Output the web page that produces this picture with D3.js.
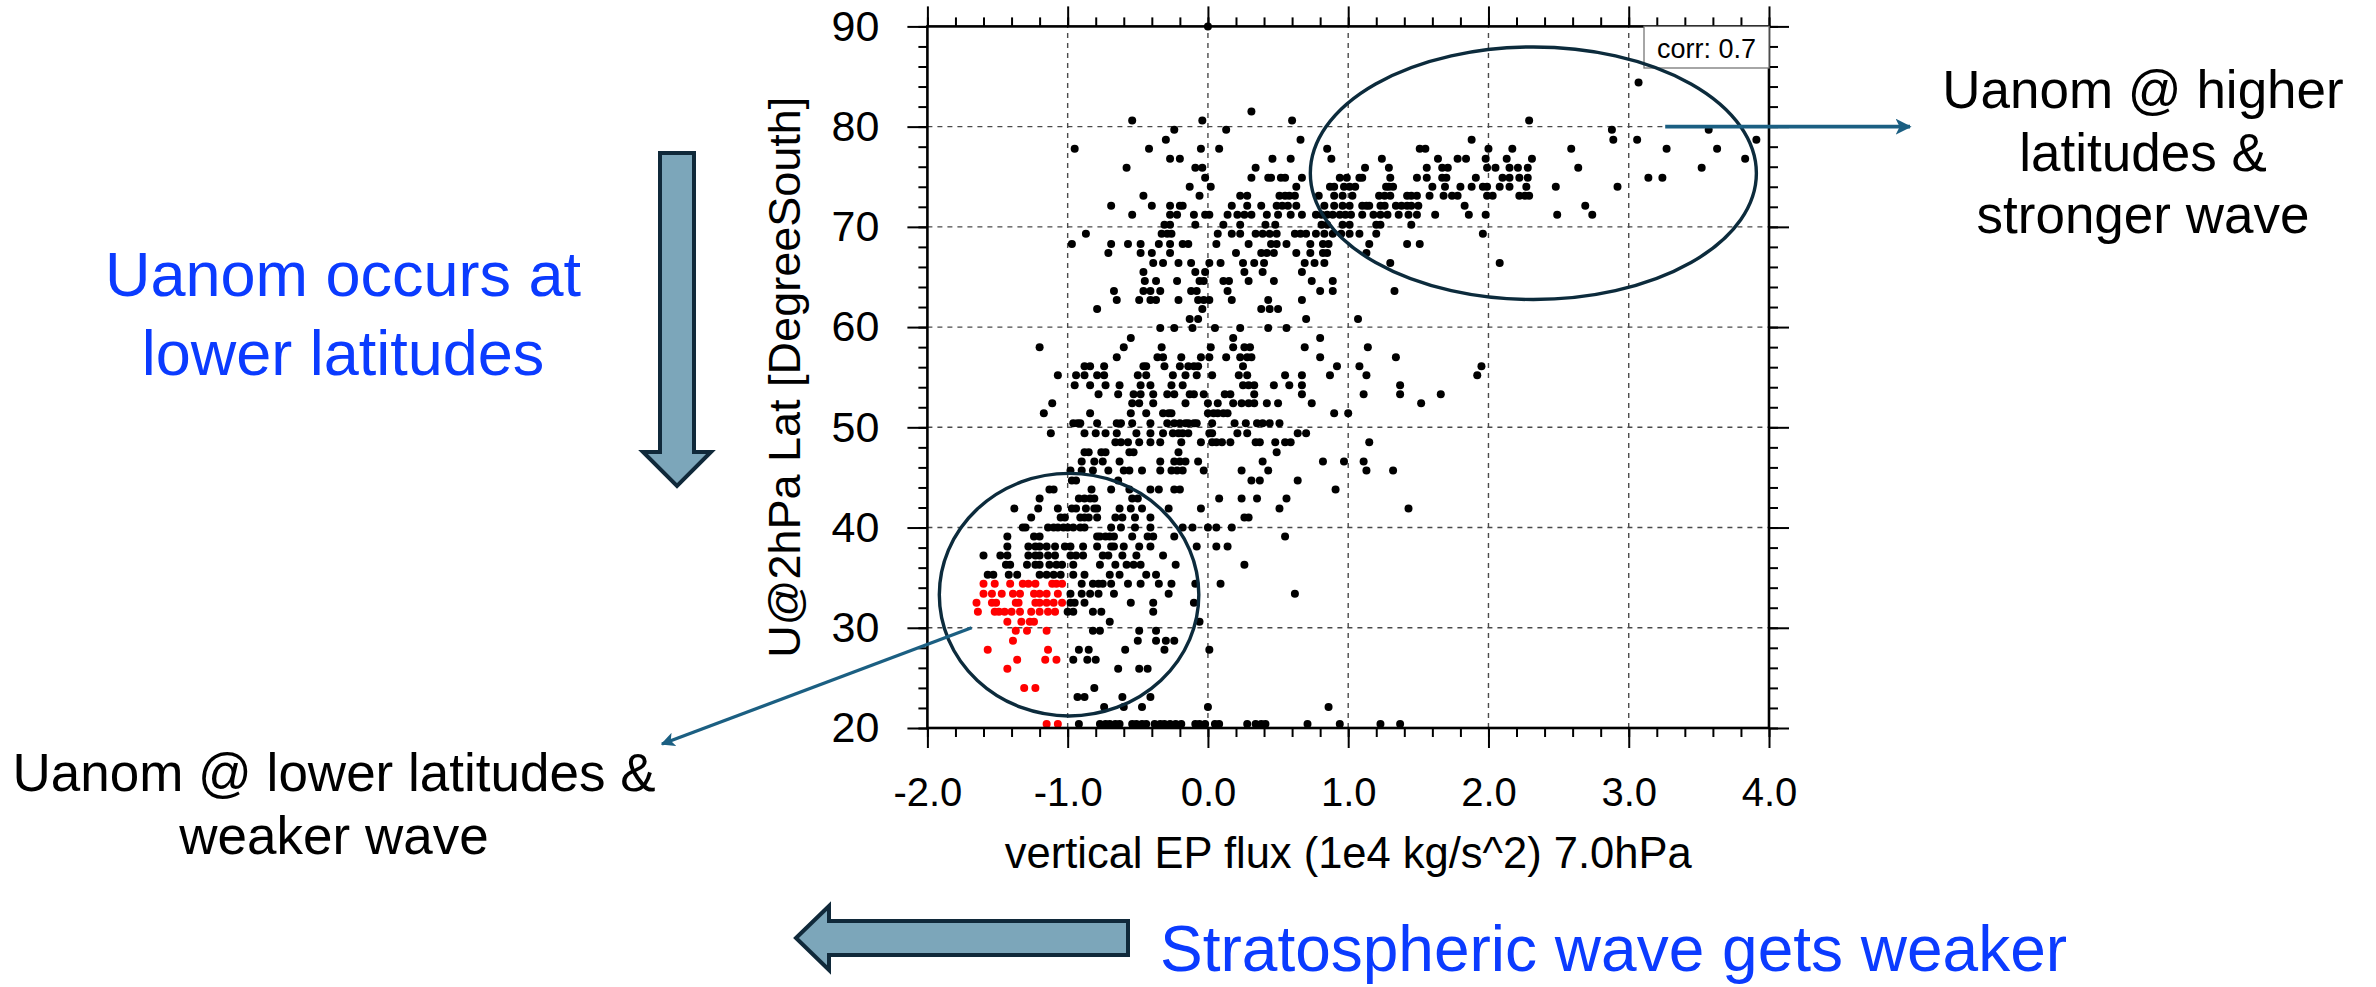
<!DOCTYPE html>
<html>
<head>
<meta charset="utf-8">
<script src="https://cdn.jsdelivr.net/npm/d3@7"></script>
<style>
  html, body { margin: 0; padding: 0; background: #fff; }
  svg { display: block; font-family: "Liberation Sans", Arial, Helvetica, sans-serif; }
</style>
</head>
<body>
<div id="chart"></div>
<script>
// axis ticks
const xTicks = [-2, -1, 0, 1, 2, 3, 4];
const yTicks = [20, 30, 40, 50, 60, 70, 80, 90];
const xTitle = "vertical EP flux (1e4 kg/s^2) 7.0hPa";
const yTitle = "U@2hPa Lat [DegreeSouth]";
const corrText = "corr: 0.7";

// black points, one row per latitude: [lat, [flux values]]
const blackRows = [
  [90.0, [0.0]],
  [84.4, [3.07]],
  [81.5, [0.31]],
  [80.6, [-0.54, -0.04, 0.60, 2.29]],
  [79.7, [-0.24, 0.13, 2.88, 3.57]],
  [78.7, [-0.30, 0.66, 1.88, 2.89, 3.06, 3.91]],
  [77.8, [-0.95, -0.42, -0.05, 0.08, 0.85, 1.51, 1.55, 2.00, 2.17, 2.59, 3.27, 3.63]],
  [76.8, [-0.27, -0.20, 0.46, 0.59, 0.88, 1.24, 1.64, 1.78, 1.84, 1.98, 2.13, 2.31, 3.83]],
  [75.9, [-0.58, -0.09, -0.04, 0.34, 1.12, 1.29, 1.56, 1.67, 1.71, 1.99, 2.05, 2.15, 2.21, 2.28, 2.64, 3.52]],
  [74.9, [-0.02, 0.31, 0.43, 0.45, 0.52, 0.55, 0.67, 0.94, 0.99, 1.08, 1.10, 1.30, 1.49, 1.56, 1.67, 1.70, 1.91, 2.10, 2.15, 2.22, 2.28, 3.14, 3.24]],
  [74.0, [-0.13, 0.02, 0.63, 0.87, 0.90, 0.97, 1.01, 1.05, 1.27, 1.29, 1.32, 1.60, 1.69, 1.80, 1.88, 1.96, 1.99, 2.08, 2.15, 2.27, 2.48, 2.92]],
  [73.1, [-0.46, -0.06, 0.23, 0.28, 0.51, 0.55, 0.58, 0.62, 0.79, 0.90, 0.96, 1.03, 1.22, 1.26, 1.30, 1.42, 1.45, 1.49, 1.58, 1.68, 1.74, 1.78, 1.99, 2.03, 2.22, 2.26, 2.29]],
  [72.1, [-0.69, -0.40, -0.27, -0.20, -0.18, 0.17, 0.28, 0.38, 0.49, 0.53, 0.57, 0.63, 0.83, 0.90, 0.96, 1.01, 1.10, 1.13, 1.15, 1.23, 1.26, 1.34, 1.38, 1.42, 1.45, 1.50, 1.83, 2.69]],
  [71.2, [-0.54, -0.27, -0.22, -0.10, -0.02, 0.01, 0.14, 0.21, 0.26, 0.31, 0.42, 0.50, 0.59, 0.67, 0.77, 0.81, 0.85, 0.89, 0.94, 0.98, 1.02, 1.10, 1.18, 1.23, 1.28, 1.36, 1.43, 1.49, 1.62, 1.86, 1.98, 2.49, 2.74]],
  [70.2, [-0.31, -0.27, -0.09, 0.11, 0.23, 0.41, 0.48, 0.81, 0.85, 0.96, 1.01, 1.20, 1.23, 1.45]],
  [69.3, [-0.87, -0.33, -0.29, -0.26, 0.07, 0.17, 0.23, 0.34, 0.39, 0.44, 0.49, 0.62, 0.66, 0.70, 0.77, 0.83, 0.89, 0.95, 1.01, 1.08, 1.20, 1.96]],
  [68.3, [-0.97, -0.69, -0.57, -0.48, -0.35, -0.27, -0.18, -0.14, 0.06, 0.29, 0.45, 0.49, 0.56, 0.73, 0.82, 0.86, 1.15, 1.42, 1.51]],
  [67.4, [-0.71, -0.48, -0.40, -0.27, 0.20, 0.38, 0.42, 0.47, 0.63, 0.73, 0.82, 0.85, 1.13]],
  [66.4, [-0.39, -0.32, -0.21, -0.12, 0.01, 0.09, 0.25, 0.33, 0.40, 0.69, 0.76, 0.83, 1.30, 2.08]],
  [65.5, [-0.46, -0.09, -0.02, 0.26, 0.39, 0.67]],
  [64.6, [-0.45, -0.37, -0.22, -0.06, -0.03, 0.11, 0.15, 0.29, 0.47, 0.74, 0.89]],
  [63.6, [-0.67, -0.46, -0.41, -0.34, -0.12, -0.08, 0.14, 0.80, 0.89, 1.33]],
  [62.7, [-0.65, -0.49, -0.41, -0.37, -0.21, -0.07, -0.03, 0.01, 0.17, 0.43, 0.67]],
  [61.8, [-0.79, -0.04, 0.38, 0.44, 0.50]],
  [60.8, [-0.13, -0.07, 0.70, 1.07]],
  [59.9, [-0.34, -0.24, -0.11, 0.05, 0.23, 0.43, 0.56]],
  [58.9, [-0.55, 0.18, 0.80]],
  [58.0, [-1.20, -0.60, -0.33, 0.02, 0.18, 0.26, 0.30, 0.69, 1.14]],
  [57.0, [-0.65, -0.36, -0.32, -0.19, -0.05, 0.01, 0.13, 0.23, 0.28, 0.31, 0.80, 1.34]],
  [56.1, [-0.88, -0.84, -0.74, -0.46, -0.44, -0.31, -0.20, -0.14, -0.10, -0.07, 0.25, 0.92, 1.08, 1.95]],
  [55.2, [-1.07, -0.94, -0.88, -0.79, -0.74, -0.50, -0.44, -0.25, -0.16, -0.08, 0.03, 0.22, 0.28, 0.55, 0.67, 0.87, 1.13, 1.92]],
  [54.2, [-0.95, -0.84, -0.73, -0.63, -0.48, -0.41, -0.26, -0.18, 0.25, 0.29, 0.33, 0.47, 0.58, 0.67, 1.37]],
  [53.3, [-0.78, -0.64, -0.53, -0.48, -0.39, -0.29, -0.24, -0.13, -0.10, -0.03, 0.12, 0.16, 0.33, 0.67, 1.11, 1.37, 1.66]],
  [52.4, [-1.11, -0.54, -0.49, -0.39, -0.16, 0.00, 0.07, 0.18, 0.24, 0.29, 0.33, 0.42, 0.50, 0.74, 1.52]],
  [51.4, [-1.17, -0.84, -0.55, -0.44, -0.32, -0.28, -0.26, 0.00, 0.04, 0.07, 0.11, 0.14, 0.90, 1.00]],
  [50.4, [-0.96, -0.93, -0.91, -0.79, -0.65, -0.62, -0.54, -0.41, -0.29, -0.24, -0.20, -0.16, -0.14, -0.10, -0.08, 0.03, 0.19, 0.27, 0.35, 0.39, 0.44, 0.51]],
  [49.4, [-1.12, -0.88, -0.80, -0.73, -0.65, -0.51, -0.41, -0.32, -0.25, -0.21, -0.18, -0.14, 0.01, 0.03, 0.21, 0.28, 0.64, 0.70]],
  [48.5, [-0.66, -0.62, -0.57, -0.49, -0.41, -0.34, -0.19, -0.05, 0.03, 0.06, 0.10, 0.16, 0.34, 0.37, 0.48, 0.55, 0.59, 1.15]],
  [47.5, [-0.88, -0.85, -0.76, -0.73, -0.56, -0.53, -0.21, 0.49]],
  [46.6, [-0.90, -0.81, -0.75, -0.63, -0.34, -0.24, -0.20, -0.16, -0.07, 0.39, 0.82, 0.97, 1.11]],
  [45.7, [-0.98, -0.90, -0.82, -0.71, -0.60, -0.56, -0.47, -0.34, -0.26, -0.22, -0.18, -0.03, 0.24, 0.43, 1.13, 1.32]],
  [44.7, [-0.97, -0.94, -0.64, 0.31, 0.37, 0.64]],
  [43.8, [-1.13, -1.10, -0.83, -0.69, -0.56, -0.41, -0.35, -0.24, -0.20, 0.91]],
  [42.9, [-1.20, -0.92, -0.88, -0.84, -0.81, -0.54, -0.50, 0.08, 0.24, 0.35, 0.56]],
  [41.9, [-1.38, -1.21, -1.07, -0.97, -0.94, -0.87, -0.81, -0.79, -0.63, -0.55, -0.47, -0.28, -0.05, 0.51, 1.43]],
  [41.0, [-1.26, -1.05, -1.02, -0.91, -0.88, -0.85, -0.79, -0.66, -0.61, -0.52, -0.41, 0.26, 0.29]],
  [40.0, [-1.32, -1.30, -1.14, -1.10, -1.07, -1.03, -1.00, -0.96, -0.91, -0.88, -0.69, -0.62, -0.52, -0.41, -0.18, -0.11, 0.00, 0.06, 0.17]],
  [39.1, [-1.43, -1.24, -1.20, -0.79, -0.77, -0.73, -0.70, -0.67, -0.54, -0.43, -0.39, -0.24, 0.55]],
  [38.1, [-1.43, -1.28, -1.23, -1.20, -1.15, -1.09, -1.02, -0.98, -0.89, -0.79, -0.69, -0.67, -0.60, -0.49, -0.41, -0.08, 0.06, 0.14]],
  [37.2, [-1.60, -1.48, -1.43, -1.28, -1.23, -1.20, -1.14, -1.09, -0.98, -0.94, -0.89, -0.75, -0.71, -0.61, -0.51, -0.32]],
  [36.3, [-1.44, -1.41, -1.29, -1.23, -1.20, -1.13, -1.08, -1.04, -0.96, -0.77, -0.66, -0.58, -0.53, -0.48, -0.23, 0.26]],
  [35.3, [-1.57, -1.53, -1.42, -1.36, -1.20, -1.15, -1.10, -1.05, -0.96, -0.88, -0.70, -0.63, -0.44, -0.37]],
  [34.4, [-0.90, -0.82, -0.78, -0.75, -0.69, -0.57, -0.48, -0.35, -0.26, -0.09, 0.09]],
  [33.4, [-0.98, -0.90, -0.84, -0.78, -0.67, -0.28, 0.62]],
  [32.5, [-0.98, -0.95, -0.88, -0.55, -0.39, -0.10]],
  [31.6, [-1.00, -0.96, -0.82, -0.76, -0.39]],
  [30.6, [-0.70, -0.06]],
  [29.7, [-0.82, -0.77, -0.49, -0.37]],
  [28.7, [-0.50, -0.37, -0.30, -0.24]],
  [27.8, [-0.92, -0.85, -0.59, -0.31, 0.01]],
  [26.8, [-0.96, -0.86, -0.80]],
  [25.9, [-0.64, -0.49, -0.43]],
  [24.0, [-0.81]],
  [23.1, [-0.93, -0.88, -0.61, -0.41]],
  [22.1, [-0.74, -0.60, -0.47, 0.00, 0.86]],
  [20.4, [-0.92, -0.77, -0.73, -0.70, -0.66, -0.63, -0.54, -0.51, -0.47, -0.44, -0.38, -0.34, -0.31, -0.27, -0.23, -0.19, -0.09, -0.06, -0.02, 0.05, 0.08, 0.28, 0.34, 0.38, 0.41, 0.71, 0.94, 1.23, 1.37]]
];

// red (highlighted) points
const redRows = [
  [34.4, [-1.60, -1.52, -1.41, -1.32, -1.28, -1.23, -1.11, -1.08, -1.04]],
  [33.4, [-1.60, -1.54, -1.47, -1.39, -1.34, -1.24, -1.20, -1.15, -1.07]],
  [32.5, [-1.65, -1.54, -1.51, -1.37, -1.35, -1.23, -1.20, -1.15, -1.10, -1.04]],
  [31.6, [-1.64, -1.52, -1.49, -1.45, -1.40, -1.34, -1.26, -1.20, -1.14, -1.09]],
  [30.6, [-1.43, -1.33, -1.27, -1.24]],
  [29.7, [-1.37, -1.29, -1.15]],
  [28.7, [-1.39]],
  [27.8, [-1.57, -1.14]],
  [26.8, [-1.36, -1.16, -1.08]],
  [25.9, [-1.43]],
  [24.0, [-1.31, -1.23]],
  [20.4, [-1.15, -1.07]]
];

const W = 2376, H = 987;
const svg = d3.select('#chart').append('svg')
  .attr('width', W).attr('height', H);
svg.append('rect').attr('width', W).attr('height', H).attr('fill', '#fff');

const x = d3.scaleLinear().domain([-2, 4]).range([927.4, 1769]);
const y = d3.scaleLinear().domain([20, 90]).range([728, 26.4]);

const toPts = rows => rows.flatMap(([lat, xs]) => xs.map(v => ({ x: v, lat })));
const black = toPts(blackRows);
const red = toPts(redRows);

// dashed grid
const grid = svg.append('g').attr('stroke', '#4a4a4a').attr('stroke-width', 1.4)
  .attr('stroke-dasharray', '5,5');
grid.selectAll('line.gx').data(xTicks.slice(1, -1)).join('line')
  .attr('x1', d => x(d)).attr('x2', d => x(d))
  .attr('y1', y(20)).attr('y2', y(90));
grid.selectAll('line.gy').data(yTicks.slice(1, -1)).join('line')
  .attr('x1', x(-2)).attr('x2', x(4))
  .attr('y1', d => y(d)).attr('y2', d => y(d));

// axes (outward ticks on all sides)
const xMinor = d3.range(-2, 4.001, 0.2);
const yMinor = d3.range(20, 90.001, 2);
const fmt = d => d.toFixed(1);

function styleAxis(g, size) {
  g.select('.domain').remove();
  g.selectAll('.tick line').attr('stroke', '#000').attr('stroke-width', 2);
  g.selectAll('.tick text').attr('fill', '#000').attr('font-size', size || 40)
    .attr('font-family', '"Liberation Sans", Arial, sans-serif');
}

svg.append('g').attr('transform', `translate(0,${y(20)})`)
  .call(d3.axisBottom(x).tickValues(xMinor).tickSize(9).tickFormat('')).call(styleAxis);
svg.append('g').attr('transform', `translate(0,${y(20)})`)
  .call(d3.axisBottom(x).tickValues(xTicks).tickSize(20).tickPadding(30).tickFormat(fmt)).call(styleAxis, 40);
svg.append('g').attr('transform', `translate(0,${y(90)})`)
  .call(d3.axisTop(x).tickValues(xMinor).tickSize(9).tickFormat('')).call(styleAxis);
svg.append('g').attr('transform', `translate(0,${y(90)})`)
  .call(d3.axisTop(x).tickValues(xTicks).tickSize(20).tickFormat('')).call(styleAxis);
svg.append('g').attr('transform', `translate(${x(-2)},0)`)
  .call(d3.axisLeft(y).tickValues(yMinor).tickSize(9).tickFormat('')).call(styleAxis);
svg.append('g').attr('transform', `translate(${x(-2)},0)`)
  .call(d3.axisLeft(y).tickValues(yTicks).tickSize(20).tickPadding(28).tickFormat(d => d)).call(styleAxis, 43);
svg.append('g').attr('transform', `translate(${x(4)},0)`)
  .call(d3.axisRight(y).tickValues(yMinor).tickSize(9).tickFormat('')).call(styleAxis);
svg.append('g').attr('transform', `translate(${x(4)},0)`)
  .call(d3.axisRight(y).tickValues(yTicks).tickSize(20).tickFormat('')).call(styleAxis);

// points
svg.append('g').selectAll('circle').data(black).join('circle')
  .attr('cx', d => x(d.x)).attr('cy', d => y(d.lat)).attr('r', 4).attr('fill', '#000');
svg.append('g').selectAll('circle').data(red).join('circle')
  .attr('cx', d => x(d.x)).attr('cy', d => y(d.lat)).attr('r', 4).attr('fill', '#ff0000');

// frame
svg.append('rect')
  .attr('x', x(-2)).attr('y', y(90))
  .attr('width', x(4) - x(-2)).attr('height', y(20) - y(90))
  .attr('fill', 'none').attr('stroke', '#000').attr('stroke-width', 2.6);

// axis titles
svg.append('text').attr('x', (x(-2) + x(4)) / 2).attr('y', 868)
  .attr('text-anchor', 'middle').attr('font-size', 43.5).text(xTitle);
svg.append('text')
  .attr('transform', `translate(800,${(y(20) + y(90)) / 2}) rotate(-90)`)
  .attr('text-anchor', 'middle').attr('font-size', 45).text(yTitle);

// corr box
svg.append('rect').attr('x', 1644).attr('y', y(90))
  .attr('width', x(4) - 1644).attr('height', 68 - y(90))
  .attr('fill', '#fff').attr('stroke', '#777').attr('stroke-width', 1.3);
svg.append('text').attr('x', (1644 + x(4)) / 2).attr('y', 57.5)
  .attr('text-anchor', 'middle').attr('font-size', 27).text(corrText);

// ellipses
const ink = '#0c2b3c';
svg.append('ellipse')
  .attr('cx', x(2.32)).attr('cy', y(75.35))
  .attr('rx', x(2.32) - x(0.73)).attr('ry', y(62.75) - y(75.35))
  .attr('fill', 'none').attr('stroke', ink).attr('stroke-width', 3.4);
svg.append('ellipse')
  .attr('cx', x(-0.99)).attr('cy', y(33.3))
  .attr('rx', x(-0.99) - x(-1.915)).attr('ry', y(21.2) - y(33.3))
  .attr('fill', 'none').attr('stroke', ink).attr('stroke-width', 3.4);

// thin arrows
const arrowCol = '#1b5f82';
const defs = svg.append('defs');
defs.append('marker').attr('id', 'head')
  .attr('viewBox', '0 0 10 10').attr('refX', 9).attr('refY', 5)
  .attr('markerWidth', 4.2).attr('markerHeight', 4.2)
  .attr('markerUnits', 'strokeWidth').attr('orient', 'auto')
  .append('path').attr('d', 'M0,0 L10,5 L0,10 L2.5,5 Z').attr('fill', arrowCol);

svg.append('line')
  .attr('x1', x(3.26)).attr('y1', y(80)).attr('x2', 1910).attr('y2', y(80))
  .attr('stroke', arrowCol).attr('stroke-width', 3.8).attr('marker-end', 'url(#head)');
svg.append('line')
  .attr('x1', x(-1.685)).attr('y1', y(30.0)).attr('x2', 662).attr('y2', 744)
  .attr('stroke', arrowCol).attr('stroke-width', 3.4).attr('marker-end', 'url(#head)');

// block arrows
const blockFill = '#7ca6ba', blockStroke = '#10293a';
svg.append('path')
  .attr('d', 'M660,153 L694,153 L694,452 L711,452 L677,486 L643,452 L660,452 Z')
  .attr('fill', blockFill).attr('stroke', blockStroke).attr('stroke-width', 4)
  .attr('stroke-linejoin', 'miter');
svg.append('path')
  .attr('d', 'M796,938 L829,906 L829,921 L1128,921 L1128,955 L829,955 L829,970 Z')
  .attr('fill', blockFill).attr('stroke', blockStroke).attr('stroke-width', 4)
  .attr('stroke-linejoin', 'miter');

// annotation texts
const blue = '#0b3bff';
const leftText = ['Uanom occurs at', 'lower latitudes'];
svg.append('g').selectAll('text').data(leftText).join('text')
  .attr('x', 343).attr('y', (d, i) => 296 + i * 79)
  .attr('text-anchor', 'middle').attr('font-size', 63).attr('fill', blue).text(d => d);

const rightText = ['Uanom @ higher', 'latitudes &', 'stronger wave'];
svg.append('g').selectAll('text').data(rightText).join('text')
  .attr('x', 2143).attr('y', (d, i) => 108 + i * 62.5)
  .attr('text-anchor', 'middle').attr('font-size', 53).attr('fill', '#000').text(d => d);

const lowText = ['Uanom @ lower latitudes &', 'weaker wave'];
svg.append('g').selectAll('text').data(lowText).join('text')
  .attr('x', 334).attr('y', (d, i) => 791 + i * 62.5)
  .attr('text-anchor', 'middle').attr('font-size', 53).attr('fill', '#000').text(d => d);

svg.append('text').attr('x', 1160).attr('y', 971)
  .attr('font-size', 64).attr('fill', blue).text('Stratospheric wave gets weaker');
</script>
</body>
</html>
